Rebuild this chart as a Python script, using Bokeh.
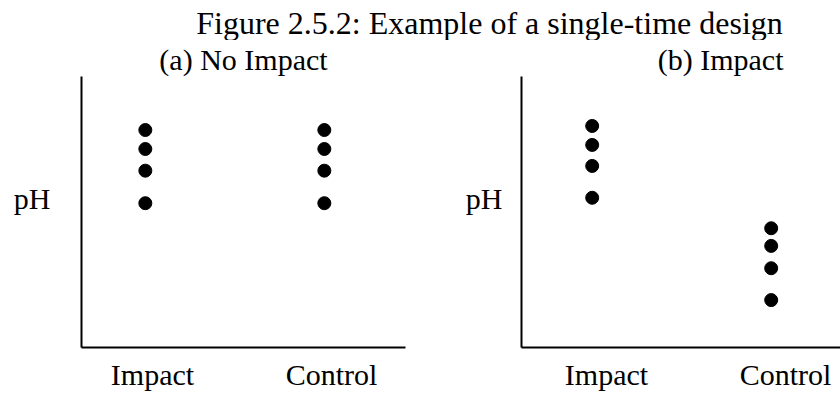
from bokeh.plotting import figure
from bokeh.models import Range1d, FixedTicker, Label, Title, ColumnDataSource
from bokeh.layouts import column, row
from bokeh.transform import dodge
from bokeh.embed import file_html
from bokeh.resources import INLINE

# ---- data ----
categories = ["Impact", "Control"]
main_title = "Figure 2.5.2: Example of a single-time design"
panel_titles = ["(a) No Impact", "(b) Impact"]
y_label = "pH"

# (a) No impact: both groups at the same pH levels
a_impact = [8.01, 7.73, 7.41, 6.93]
a_control = [8.01, 7.73, 7.41, 6.93]
# (b) Impact: impact site higher than control site
b_impact = [8.07, 7.79, 7.48, 7.01]
b_control = [6.56, 6.30, 5.97, 5.50]

FONT = "Liberation Serif"


def make_panel(title_text, impact_vals, control_vals, width, x_start, x_end,
               border_left, border_right, label_standoff, dot_shift,
               title_align, title_offset):
    p = figure(width=width, height=353, output_backend="svg",
               toolbar_location=None,
               x_range=Range1d(x_start, x_end), y_range=Range1d(4.8, 8.8),
               min_border_left=border_left, min_border_right=border_right,
               min_border_top=35, min_border_bottom=0)
    p.title = Title(text=title_text, align=title_align, offset=title_offset,
                    standoff=1, text_font=FONT, text_font_size="30px",
                    text_font_style="normal", text_color="black")
    p.outline_line_color = None
    p.grid.visible = False

    xs, ys = [], []
    for i, vals in enumerate([impact_vals, control_vals]):
        for v in vals:
            xs.append(i + 1)
            ys.append(v)
    src = ColumnDataSource(dict(x=xs, y=ys))
    p.scatter(x=dodge("x", dot_shift), y="y", source=src, size=13,
              fill_color="black", line_color="black")

    xa = p.xaxis[0]
    xa.ticker = FixedTicker(ticks=[i + 1 for i in range(len(categories))])
    xa.major_label_overrides = {i + 1: c for i, c in enumerate(categories)}
    ya = p.yaxis[0]
    ya.ticker = FixedTicker(ticks=[7])
    ya.major_label_overrides = {7: y_label}
    ya.major_label_standoff = label_standoff
    xa.major_label_standoff = 10
    for ax in (xa, ya):
        ax.axis_line_width = 2
        ax.axis_line_color = "black"
        ax.major_tick_out = 0
        ax.major_tick_in = 0
        ax.major_tick_line_color = None
        ax.minor_tick_line_color = None
        ax.major_label_text_font = FONT
        ax.major_label_text_font_size = "30px"
        ax.major_label_text_color = "black"
    return p


p1 = make_panel(panel_titles[0], a_impact, a_control, 420, 0.6034, 2.4134,
                81, 15, 31, -0.04, "center", 0)
p2 = make_panel(panel_titles[1], b_impact, b_control, 420, 0.5251, 2.3072,
                101, 0, 19, -0.08, "right", 57)

t = figure(width=840, height=40, output_backend="svg", toolbar_location=None,
           x_range=Range1d(0, 1), y_range=Range1d(0, 1), title=None,
           x_axis_location=None, y_axis_location=None, min_border=0)
t.outline_line_color = None
t.grid.visible = False
t.add_layout(Label(x=489, y=18, x_units="screen", y_units="screen",
                   text=main_title, text_align="center",
                   text_baseline="alphabetic", text_font=FONT,
                   text_font_size="32px", text_color="black"))

layout = column(t, row(p1, p2))
open("out.html", "w").write(file_html(layout, INLINE))
